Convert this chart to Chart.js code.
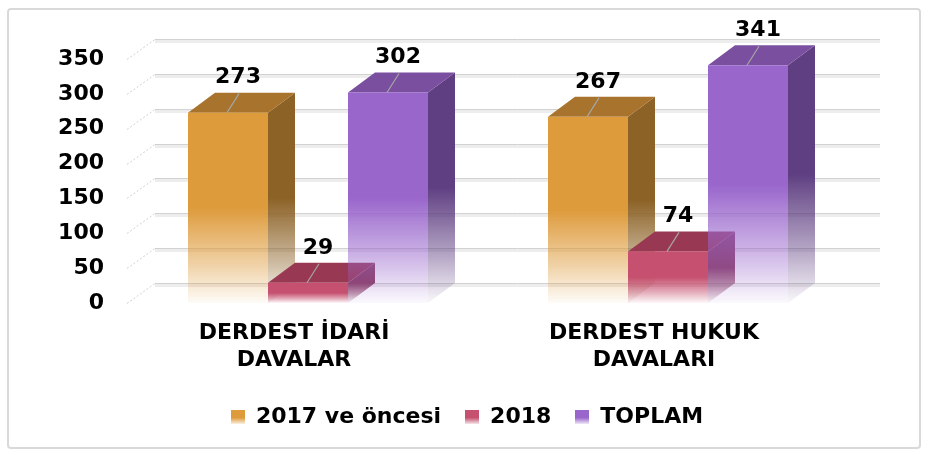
<!DOCTYPE html>
<html>
<head>
<meta charset="utf-8">
<script src="https://cdn.jsdelivr.net/npm/chart.js@4/dist/chart.umd.min.js"></script>
<style>
html, body { margin: 0; padding: 0; background: #fff; }
#wrap { position: relative; width: 928px; height: 455px; }
#frame { position: absolute; left: 7px; top: 8px; width: 910px; height: 437px; border: 2px solid #d9d9d9; border-radius: 4px; pointer-events: none; }
</style>
</head>
<body>
<div id="wrap">
  <canvas id="c" width="928" height="455"></canvas>
  <div id="frame"></div>
</div>
<script>
// data
var categories = [['DERDEST İDARİ', 'DAVALAR'], ['DERDEST HUKUK', 'DAVALARI']];
var seriesNames = ['2017 ve öncesi', '2018', 'TOPLAM'];
var oncesi = [273, 267];
var yil2018 = [29, 74];
var toplam = [302, 341];
var yMax = 350;
var yStep = 50;

// colours: front, top, side
var faces = [
  ['#de9b3c', '#a8732c', '#8c6226'],
  ['#c6506f', '#983852', '#8a3b5e'],
  ['#9966cc', '#7a4f9f', '#5f3f82']
];

var DX = 27, DY = -20;
var FONT = '"DejaVu Sans", Verdana, sans-serif';

function rgba(hex, a) {
  var n = parseInt(hex.slice(1), 16);
  return 'rgba(' + (n >> 16) + ',' + ((n >> 8) & 255) + ',' + (n & 255) + ',' + a + ')';
}

function swatch(hex) {
  var c = document.createElement('canvas');
  c.width = 14; c.height = 14;
  var g = c.getContext('2d');
  var gr = g.createLinearGradient(0, 0, 0, 14);
  gr.addColorStop(0, hex);
  gr.addColorStop(0.55, hex);
  gr.addColorStop(1, rgba(hex, 0.15));
  g.fillStyle = gr;
  g.fillRect(0, 0, 14, 14);
  return c;
}
var swatches = faces.map(function (f) { return swatch(f[0]); });

function fadeGrad(ctx, hex, y0, y1) {
  var g = ctx.createLinearGradient(0, y0, 0, y1);
  g.addColorStop(0, rgba(hex, 1));
  g.addColorStop(0.5, rgba(hex, 1));
  g.addColorStop(0.8, rgba(hex, 0.45));
  g.addColorStop(1, rgba(hex, 0.04));
  return g;
}

var bar3d = {
  id: 'bar3d',
  beforeDatasetsDraw: function (chart) {
    var ctx = chart.ctx, ys = chart.scales.y, a = chart.chartArea;
    ctx.save();
    ys.ticks.forEach(function (t) {
      var y = Math.round(ys.getPixelForValue(t.value)) + 0.5;
      ctx.strokeStyle = '#ededed';
      ctx.lineWidth = 3;
      ctx.beginPath();
      ctx.moveTo(a.left + DX, y + DY + 2);
      ctx.lineTo(a.right + DX + 5, y + DY + 2);
      ctx.stroke();
      ctx.strokeStyle = '#d2d2d2';
      ctx.lineWidth = 1;
      ctx.beginPath();
      ctx.moveTo(a.left + DX, y + DY);
      ctx.lineTo(a.right + DX + 5, y + DY);
      ctx.stroke();
      ctx.setLineDash([2, 2]);
      ctx.strokeStyle = '#d0d0d0';
      ctx.beginPath();
      ctx.moveTo(a.left - 1, y);
      ctx.lineTo(a.left + DX, y + DY);
      ctx.stroke();
      ctx.setLineDash([]);
    });
    ctx.restore();
  },
  beforeDatasetDraw: function () { return false; },
  afterDatasetsDraw: function (chart) {
    var ctx = chart.ctx;
    var n = chart.data.datasets.length;
    var labels = [];
    ctx.save();
    for (var j = 0; j < chart.data.labels.length; j++) {
      for (var i = 0; i < n; i++) {
        var el = chart.getDatasetMeta(i).data[j];
        var p = el.getProps(['x', 'y', 'base', 'width'], true);
        var l = p.x - p.width / 2, r = p.x + p.width / 2, t = p.y, b = p.base;
        var f = faces[i];
        // side
        ctx.beginPath();
        ctx.moveTo(r, t); ctx.lineTo(r + DX, t + DY); ctx.lineTo(r + DX, b + DY); ctx.lineTo(r, b);
        ctx.closePath();
        ctx.fillStyle = fadeGrad(ctx, f[2], t + DY, b);
        ctx.fill();
        // top
        ctx.beginPath();
        ctx.moveTo(l, t); ctx.lineTo(l + DX, t + DY); ctx.lineTo(r + DX, t + DY); ctx.lineTo(r, t);
        ctx.closePath();
        ctx.fillStyle = f[1];
        ctx.fill();
        // front
        ctx.fillStyle = fadeGrad(ctx, f[0], t, b);
        ctx.fillRect(l, t, r - l, b - t);
        labels.push({ x: p.x, y: t, v: chart.data.datasets[i].data[j] });
      }
    }
    ctx.font = 'bold 22px ' + FONT;
    ctx.textAlign = 'center';
    ctx.textBaseline = 'middle';
    labels.forEach(function (lb) {
      ctx.strokeStyle = '#a6a6a6';
      ctx.lineWidth = 1.2;
      ctx.beginPath();
      ctx.moveTo(lb.x + 11, lb.y - 19);
      ctx.lineTo(lb.x - 1, lb.y);
      ctx.stroke();
      ctx.fillStyle = '#000';
      ctx.fillText(String(lb.v), lb.x + 10, lb.y - 35);
    });
    ctx.restore();
  }
};

var chart = new Chart(document.getElementById('c'), {
  type: 'bar',
  data: {
    labels: categories,
    datasets: [
      { label: seriesNames[0], data: oncesi, backgroundColor: faces[0][0] },
      { label: seriesNames[1], data: yil2018, backgroundColor: faces[1][0] },
      { label: seriesNames[2], data: toplam, backgroundColor: faces[2][0] }
    ]
  },
  options: {
    responsive: false,
    animation: false,
    layout: { padding: { top: 59, right: 40, bottom: 17, left: 46 } },
    datasets: { bar: { categoryPercentage: 240 / 360, barPercentage: 1 } },
    scales: {
      x: {
        grid: { display: false, drawTicks: false },
        border: { display: false },
        ticks: {
          color: '#000',
          font: { family: FONT, size: 22, weight: 'bold', lineHeight: 1.23 },
          padding: 17,
          labelOffset: -14,
          maxRotation: 0
        },
        afterFit: function (s) { s.height = 79; }
      },
      y: {
        min: 0,
        max: yMax,
        grid: { display: false, drawTicks: false },
        border: { display: false },
        ticks: {
          stepSize: yStep,
          color: '#000',
          font: { family: FONT, size: 22, weight: 'bold' },
          padding: 24
        },
        afterFit: function (s) { s.width = 82; }
      },
      // empty right-hand space so the plot ends where the depth begins
      y2: {
        position: 'right',
        min: 0,
        max: yMax,
        grid: { display: false, drawTicks: false },
        border: { display: false },
        ticks: { display: false },
        afterFit: function (s) { s.width = 40; }
      }
    },
    plugins: {
      tooltip: { enabled: false },
      legend: {
        position: 'bottom',
        labels: {
          usePointStyle: true,
          boxWidth: 14,
          pointStyleWidth: 14,
          padding: 24,
          color: '#000',
          font: { family: FONT, size: 22, weight: 'bold' },
          generateLabels: function (ch) {
            return ch.data.datasets.map(function (ds, i) {
              return { text: ds.label, pointStyle: swatches[i], fillStyle: ds.backgroundColor,
                strokeStyle: 'transparent', lineWidth: 0, hidden: false, datasetIndex: i, fontColor: '#000' };
            });
          }
        }
      }
    }
  },
  plugins: [bar3d]
});
</script>
</body>
</html>
